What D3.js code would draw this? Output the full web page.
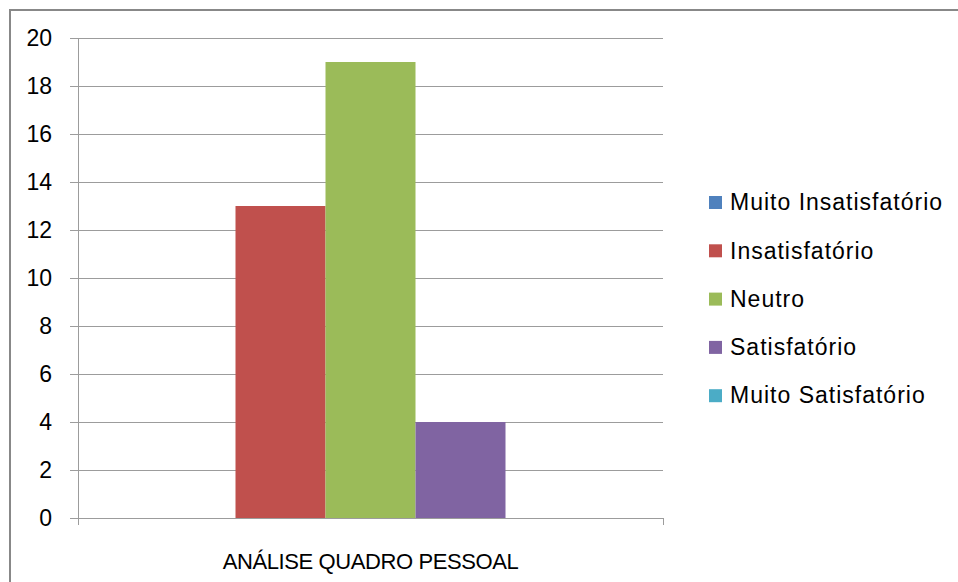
<!DOCTYPE html>
<html>
<head>
<meta charset="utf-8">
<script src="https://cdn.jsdelivr.net/npm/d3@7"></script>
<style>
  body { margin: 0; background: #fff; }
  text { font-family: "Liberation Sans", "Open Sans", sans-serif; fill: #000; }
</style>
</head>
<body>
<script>
var categories = ["ANÁLISE QUADRO PESSOAL"];
var series = ["Muito Insatisfatório", "Insatisfatório", "Neutro", "Satisfatório", "Muito Satisfatório"];
var values = [0, 13, 19, 4, 0];
var colors = ["#4F81BD", "#C0504D", "#9BBB59", "#8064A2", "#4BACC6"];
var yTicks = [0, 2, 4, 6, 8, 10, 12, 14, 16, 18, 20];

const w = 958;
const h = 582;

const svg = d3.select("body")
    .append("svg")
    .attr("width", w)
    .attr("height", h);

// outer chart frame (only top and left visible, rest cropped)
svg.append("rect")
    .attr("x", 10)
    .attr("y", 10)
    .attr("width", w + 20)
    .attr("height", h + 20)
    .attr("fill", "none")
    .attr("stroke", "#888")
    .attr("stroke-width", 2);

const plotLeft = 78, plotRight = 663, plotTop = 38, plotBottom = 518;

const yScale = d3.scaleLinear()
    .domain([0, 20])
    .range([plotBottom, plotTop]);

const xScale = d3.scaleBand()
    .domain(categories)
    .range([plotLeft, plotRight]);

const inner = d3.scaleBand()
    .domain(series)
    .range([0, xScale.bandwidth()])
    .paddingOuter(0.75);

// gridlines
svg.append("g")
    .selectAll("line")
    .data(yTicks)
    .enter()
    .append("line")
    .attr("x1", plotLeft - 8)
    .attr("x2", plotRight)
    .attr("y1", (d) => Math.round(yScale(d)) + 0.5)
    .attr("y2", (d) => Math.round(yScale(d)) + 0.5)
    .attr("stroke", "#9c9c9c")
    .attr("stroke-width", 1);

// y axis labels
svg.append("g")
    .selectAll("text")
    .data(yTicks)
    .enter()
    .append("text")
    .attr("x", 52)
    .attr("y", (d) => yScale(d))
    .attr("dy", "0.36em")
    .attr("text-anchor", "end")
    .style("font-size", "23px")
    .text((d) => d);

// axis lines
svg.append("line")
    .attr("x1", plotLeft + 0.5).attr("x2", plotLeft + 0.5)
    .attr("y1", plotTop).attr("y2", plotBottom + 7)
    .attr("stroke", "#9c9c9c");
svg.append("line")
    .attr("x1", plotRight + 0.5).attr("x2", plotRight + 0.5)
    .attr("y1", plotBottom).attr("y2", plotBottom + 7)
    .attr("stroke", "#9c9c9c");

// bars
svg.append("g")
    .selectAll("rect")
    .data(series)
    .enter()
    .append("rect")
    .attr("x", (d) => xScale(categories[0]) + inner(d))
    .attr("y", (d, i) => yScale(values[i]))
    .attr("width", inner.bandwidth())
    .attr("height", (d, i) => plotBottom - yScale(values[i]))
    .attr("fill", (d, i) => colors[i]);

// category label
svg.append("text")
    .attr("x", xScale(categories[0]) + xScale.bandwidth() / 2)
    .attr("y", 569)
    .attr("text-anchor", "middle")
    .style("font-size", "22px")
    .style("letter-spacing", "-0.4px")
    .text(categories[0]);

// legend
const legend = svg.append("g")
    .selectAll("g")
    .data(series)
    .enter()
    .append("g")
    .attr("transform", (d, i) => "translate(709," + (202 + i * 48.3) + ")");

legend.append("rect")
    .attr("x", 0)
    .attr("y", -6)
    .attr("width", 13)
    .attr("height", 13)
    .attr("fill", (d, i) => colors[i]);

legend.append("text")
    .attr("x", 21)
    .attr("y", 0)
    .attr("dy", "0.36em")
    .style("font-size", "23px")
    .style("letter-spacing", "1px")
    .text((d) => d);
</script>
</body>
</html>
